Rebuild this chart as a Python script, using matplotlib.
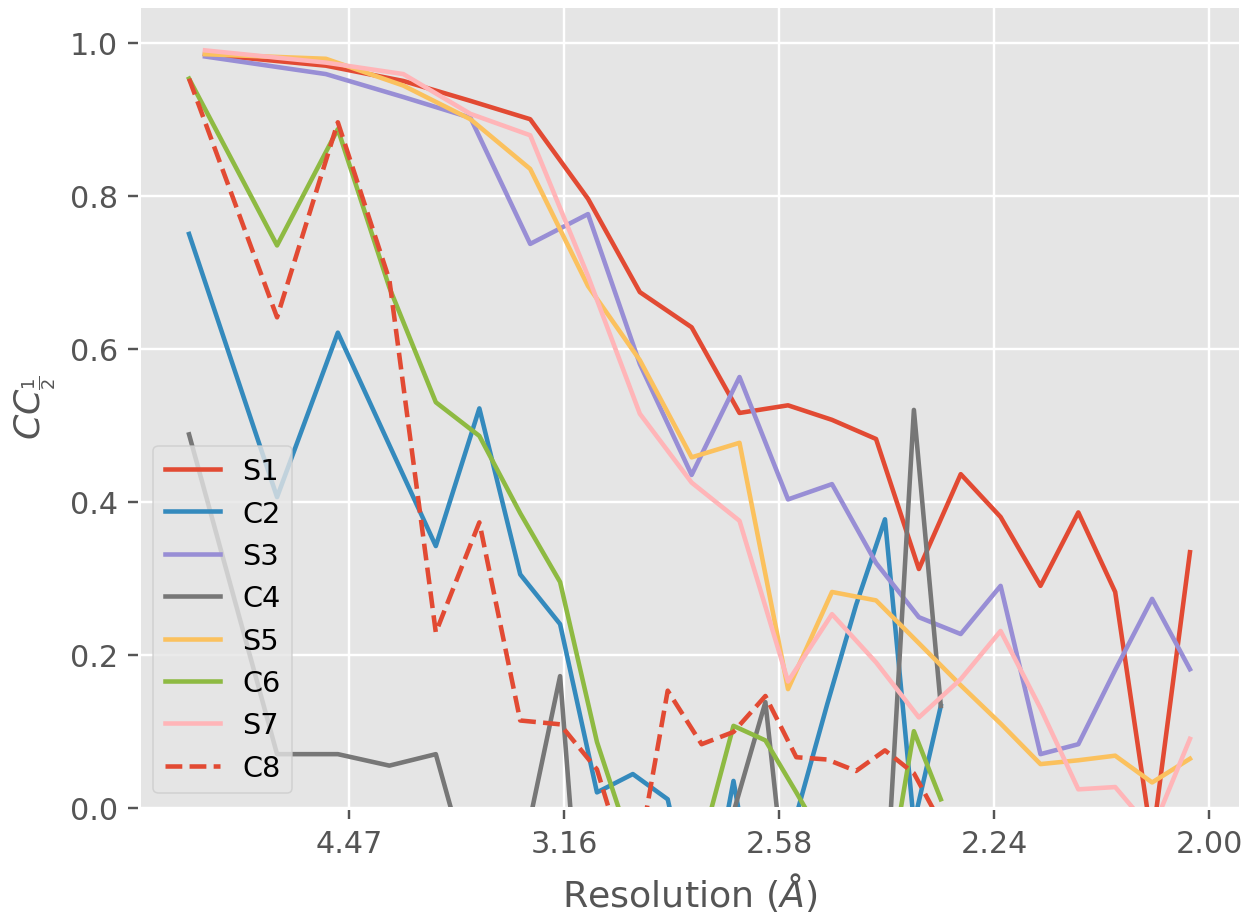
import matplotlib

matplotlib.use("Agg")
import matplotlib.pyplot as plt
import numpy as np

plt.style.use("ggplot")

# bin positions in 1/d^2 (A^-2); the S and C runs were binned differently
inv_d2_s = [0.01650, 0.04460, 0.06260, 0.07820, 0.09210, 0.10554, 0.11759, 0.12963,
            0.14076, 0.15204, 0.16226, 0.17250, 0.18246, 0.19219, 0.20146, 0.21073,
            0.21953, 0.22810, 0.23668, 0.24548]
inv_d2_c = [0.01279, 0.03325, 0.04738, 0.05936, 0.07016, 0.08028, 0.08978, 0.09905,
            0.10762, 0.11596, 0.12407, 0.13195, 0.13936, 0.14678, 0.15396, 0.16114,
            0.16786, 0.17458, 0.18130, 0.18756]

cc_s1 = [0.985, 0.970, 0.950, 0.924, 0.900, 0.796, 0.674, 0.628, 0.516, 0.526,
         0.507, 0.482, 0.312, 0.436, 0.380, 0.290, 0.386, 0.282, -0.045, 0.334]
cc_c2 = [0.750, 0.406, 0.621, 0.474, 0.342, 0.522, 0.305, 0.240, 0.020, 0.044,
         0.011, -0.187, 0.035, -0.200, -0.010, 0.135, 0.265, 0.377, -0.020, 0.133]
cc_s3 = [0.982, 0.959, 0.929, 0.902, 0.737, 0.776, 0.580, 0.435, 0.563, 0.403,
         0.423, 0.320, 0.249, 0.227, 0.290, 0.070, 0.083, 0.180, 0.273, 0.181]
cc_c4 = [0.488, 0.070, 0.070, 0.055, 0.070, -0.134, -0.076, 0.172, -0.446, -0.300,
         -0.300, -0.300, -0.006, 0.138, -0.236, -0.300, -0.300, -0.136, 0.520, 0.133]
cc_s5 = [0.985, 0.979, 0.944, 0.900, 0.835, 0.682, 0.585, 0.458, 0.477, 0.155,
         0.282, 0.271, 0.215, 0.160, 0.110, 0.057, 0.062, 0.068, 0.033, 0.064]
cc_c6 = [0.953, 0.735, 0.887, 0.680, 0.530, 0.486, 0.385, 0.295, 0.086, -0.057,
         -0.100, -0.049, 0.107, 0.088, 0.020, -0.050, -0.100, -0.123, 0.100, 0.011]
cc_s7 = [0.990, 0.974, 0.959, 0.907, 0.879, 0.695, 0.515, 0.425, 0.375, 0.165,
         0.253, 0.190, 0.118, 0.168, 0.231, 0.130, 0.024, 0.027, -0.030, 0.090]
cc_c8 = [0.953, 0.641, 0.896, 0.690, 0.229, 0.373, 0.114, 0.109, 0.050, -0.104,
         0.153, 0.083, 0.099, 0.146, 0.066, 0.063, 0.048, 0.075, 0.045, -0.020]

series = [
    ("S1", inv_d2_s, cc_s1, "-"),
    ("C2", inv_d2_c, cc_c2, "-"),
    ("S3", inv_d2_s, cc_s3, "-"),
    ("C4", inv_d2_c, cc_c4, "-"),
    ("S5", inv_d2_s, cc_s5, "-"),
    ("C6", inv_d2_c, cc_c6, "-"),
    ("S7", inv_d2_s, cc_s7, "-"),
    ("C8", inv_d2_c, cc_c8, "--"),
]

tick_pos = [0.05, 0.10, 0.15, 0.20, 0.25]

dpi = 218
fig = plt.figure(figsize=(1244 / dpi, 913 / dpi), dpi=dpi)
ax = fig.add_axes([139 / 1244, 1 - 808.7 / 913, (1240 - 139) / 1244, (808.7 - 7) / 913])

for name, x, y, ls in series:
    ax.plot(x, y, ls, label=name)

ax.set_ylim(0, 1.048)
ax.set_xticks(tick_pos)
ax.set_xticklabels([f"{1 / np.sqrt(v):.2f}" for v in tick_pos])
ax.set_xlabel(r"Resolution ($\AA$)")
ax.set_ylabel(r"$CC_{\frac{1}{2}}$")
ax.legend(loc="lower left", fontsize=9.5, handlelength=1.9)

fig.savefig("out.png", dpi=dpi)
